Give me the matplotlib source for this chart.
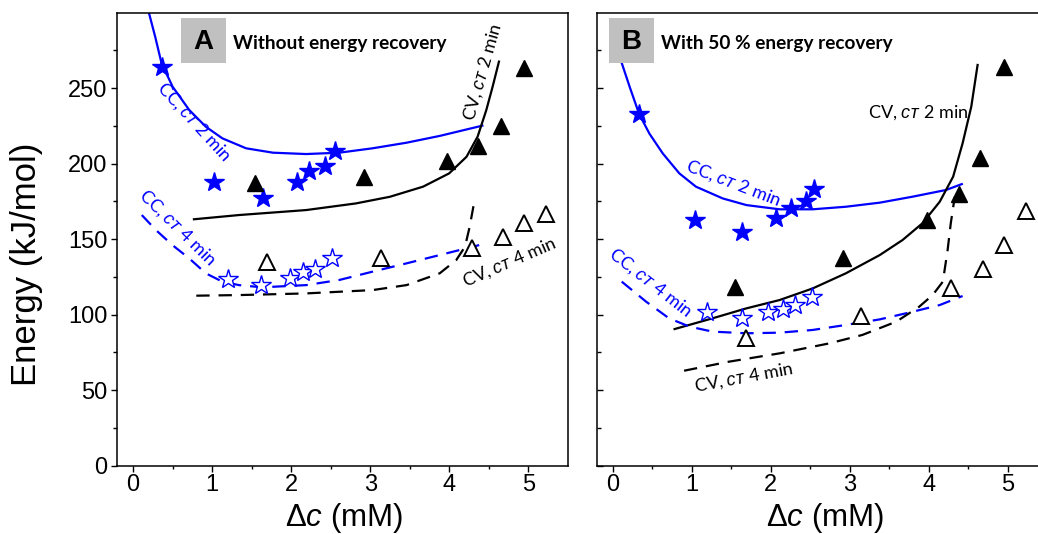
import numpy as np
import matplotlib
matplotlib.use("Agg")
import matplotlib.pyplot as plt
from matplotlib.patches import Rectangle

# ---------------- data ----------------
# Panel A: without energy recovery
a_cc2_x = [0.36, 1.03, 1.64, 2.07, 2.23, 2.43, 2.55]
a_cc2_y = [264, 188, 177, 188, 195, 198.5, 208.5]
a_cv2_x = [1.54, 2.92, 3.97, 4.36, 4.66, 4.95]
a_cv2_y = [187, 191, 202, 212, 225, 263.5]
a_cc4_x = [1.20, 1.62, 1.98, 2.15, 2.30, 2.52]
a_cc4_y = [123.5, 119.5, 124, 128, 130, 137.5]
a_cv4_x = [1.69, 3.14, 4.29, 4.68, 4.95, 5.23]
a_cv4_y = [135, 137.5, 144, 151.5, 161, 167]

a_fit_cc2_x = [0.20, 0.28, 0.36, 0.50, 0.71, 0.92, 1.13, 1.43, 1.77, 2.19, 2.61, 3.03, 3.46, 3.88, 4.42]
a_fit_cc2_y = [300, 284, 266.5, 251, 235.6, 224.5, 216.8, 210.2, 207.3, 206.4, 207.3, 210.2, 213.9, 218.4, 225.2]
a_fit_cv2_x = [0.77, 1.34, 2.19, 2.82, 3.25, 3.67, 4.00, 4.22, 4.36, 4.47, 4.55, 4.63]
a_fit_cv2_y = [163.2, 166.0, 169.3, 173.7, 178.1, 184.8, 193.6, 204.6, 217.9, 235.5, 251.0, 267.6]
a_fit_cc4_x = [0.11, 0.29, 0.50, 0.71, 0.92, 1.13, 1.34, 1.56, 1.77, 2.19, 2.61, 3.03, 3.46, 3.88, 4.38]
a_fit_cc4_y = [166, 156, 146, 137.3, 127.4, 121.9, 119.6, 118.5, 118.5, 119.6, 123, 128.5, 134, 139.5, 146.1]
a_fit_cv4_x = [0.80, 1.34, 2.19, 3.03, 3.46, 3.88, 4.09, 4.20, 4.26, 4.32]
a_fit_cv4_y = [112.6, 113, 114.1, 116.3, 119.6, 127.4, 136.2, 145, 158.3, 175.5]

# Panel B: with 50 % energy recovery
b_cc2_x = [0.33, 1.04, 1.63, 2.07, 2.26, 2.44, 2.55]
b_cc2_y = [233, 163, 155, 164, 170.5, 175.5, 183.5]
b_cv2_x = [1.55, 2.91, 3.98, 4.38, 4.65, 4.96]
b_cv2_y = [118.5, 137.5, 163, 180, 203.5, 264]
b_cc4_x = [1.19, 1.63, 1.97, 2.15, 2.31, 2.52]
b_cc4_y = [101.5, 97.5, 101.5, 104, 106.5, 112]
b_cv4_x = [1.68, 3.14, 4.28, 4.69, 4.96, 5.23]
b_cv4_y = [84.5, 99, 117.5, 130.5, 146, 168.5]

b_fit_cc2_x = [0.02, 0.07, 0.21, 0.33, 0.46, 0.63, 0.84, 1.05, 1.39, 1.69, 2.11, 2.53, 2.95, 3.38, 3.80, 4.22, 4.42]
b_fit_cc2_y = [292, 273, 251, 233, 220, 206.8, 193.6, 184.8, 177, 172.6, 169.8, 169.8, 171.5, 174.2, 178.2, 182.6, 186.5]
b_fit_cv2_x = [0.78, 1.26, 1.69, 2.11, 2.53, 2.95, 3.38, 3.67, 3.92, 4.14, 4.31, 4.43, 4.54, 4.62]
b_fit_cv2_y = [90.5, 97.6, 104.2, 109.7, 117.4, 127.4, 139.5, 149.5, 160.5, 174.8, 191.4, 213.5, 237.8, 265.4]
b_fit_cc4_x = [0.11, 0.42, 0.71, 0.97, 1.26, 1.69, 2.11, 2.53, 2.95, 3.38, 3.80, 4.14, 4.43]
b_fit_cc4_y = [121.9, 108.6, 97.6, 92.1, 88.8, 87.7, 88.1, 89.9, 93.2, 96.9, 102.0, 106.4, 112.4]
b_fit_cv4_x = [0.90, 1.47, 2.11, 2.74, 3.16, 3.59, 3.88, 4.05, 4.18, 4.24, 4.28, 4.33]
b_fit_cv4_y = [62.9, 68.9, 74.4, 81.0, 86.6, 95.4, 105.3, 113.0, 121.9, 142.8, 160.5, 178.0]

x_ticks = [0, 1, 2, 3, 4, 5]
y_ticks = [0, 50, 100, 150, 200, 250]
panel_letters = ["A", "B"]
panel_titles = ["Without energy recovery", "With 50 % energy recovery"]
x_label = "Δ$\\mathit{c}$ (mM)"
y_label = "Energy (kJ/mol)"

# ---------------- styling ----------------
plt.rcParams["font.family"] = ["Liberation Sans", "DejaVu Sans"]
plt.rcParams["mathtext.fontset"] = "custom"
plt.rcParams["mathtext.rm"] = "Liberation Sans"
plt.rcParams["mathtext.it"] = "Liberation Sans:italic"
plt.rcParams["mathtext.fallback"] = "stix"

BLUE = "#0000ff"
LBL_FONT = ["Lato", "DejaVu Sans"]
DASH = (0, (6, 4))

fig = plt.figure(figsize=(10.38, 5.34), dpi=100)
axA = fig.add_axes([0.1130, 0.1279, 0.4339, 0.8483])
axB = fig.add_axes([0.5754, 0.1279, 0.4333, 0.8483])


def draw_panel(ax, cc2, cv2, cc4, cv4, fcc2, fcv2, fcc4, fcv4):
    ax.plot(*fcc2, color=BLUE, lw=1.6, zorder=2)
    ax.plot(*fcv2, color="black", lw=1.6, zorder=2)
    ax.plot(*fcc4, color=BLUE, lw=1.6, ls=DASH, zorder=2)
    ax.plot(*fcv4, color="black", lw=1.6, ls=DASH, zorder=2)
    ax.plot(*cc2, ls="none", marker="*", ms=15, color=BLUE, mec=BLUE, zorder=4)
    ax.plot(*cv2, ls="none", marker="^", ms=12, color="black", zorder=4)
    ax.plot(*cc4, ls="none", marker="*", ms=15, mfc="white", mec=BLUE, mew=1.0, zorder=4)
    ax.plot(*cv4, ls="none", marker="^", ms=11.5, mfc="white", mec="black", mew=1.4, zorder=4)
    ax.set_xlim(-0.2, 5.5)
    ax.set_ylim(0, 300)
    ax.set_xticks(x_ticks)
    ax.set_xticks(np.arange(0.5, 5.5, 1.0), minor=True)
    ax.set_yticks(y_ticks)
    ax.set_yticks(np.arange(25, 300, 50), minor=True)
    ax.tick_params(axis="x", which="major", direction="out", length=4.3, width=1.0,
                   labelsize=17, pad=2)
    ax.tick_params(axis="x", which="minor", direction="out", length=2.5, width=1.0)
    ax.tick_params(top=False, right=False, which="both")
    for s in ax.spines.values():
        s.set_linewidth(1.1)


draw_panel(axA, (a_cc2_x, a_cc2_y), (a_cv2_x, a_cv2_y), (a_cc4_x, a_cc4_y), (a_cv4_x, a_cv4_y),
           (a_fit_cc2_x, a_fit_cc2_y), (a_fit_cv2_x, a_fit_cv2_y),
           (a_fit_cc4_x, a_fit_cc4_y), (a_fit_cv4_x, a_fit_cv4_y))
draw_panel(axB, (b_cc2_x, b_cc2_y), (b_cv2_x, b_cv2_y), (b_cc4_x, b_cc4_y), (b_cv4_x, b_cv4_y),
           (b_fit_cc2_x, b_fit_cc2_y), (b_fit_cv2_x, b_fit_cv2_y),
           (b_fit_cc4_x, b_fit_cc4_y), (b_fit_cv4_x, b_fit_cv4_y))

axA.tick_params(axis="y", which="major", direction="out", length=4.3, width=1.0, labelsize=17, pad=3)
axA.tick_params(axis="y", which="minor", direction="out", length=3.0, width=1.0)
axB.tick_params(axis="y", which="major", direction="in", length=4.3, width=1.0, labelleft=False)
axB.tick_params(axis="y", which="minor", direction="in", length=3.0, width=1.0)

# panel boxes and titles
for ax, x0, tx, letter, title in [(axA, 0.1414, 0.256, panel_letters[0], panel_titles[0]),
                                  (axB, 0.0253, 0.1417, panel_letters[1], panel_titles[1])]:
    ax.add_patch(Rectangle((x0, 0.888), 0.1, 0.0996, transform=ax.transAxes,
                           facecolor="#c0c0c0", edgecolor="none", zorder=5))
    ax.text(x0 + 0.05, 0.936, letter, transform=ax.transAxes, ha="center", va="center",
            fontsize=20, fontweight="bold", zorder=6)
    ax.text(tx, 0.932, title, transform=ax.transAxes, ha="left", va="center",
            fontsize=13.7, fontweight="bold", family=LBL_FONT, zorder=6)

CT = "$\\mathit{ᴄᴛ}$"


def curve_label(ax, x, y, kind, minutes, rot, color):
    ax.text(x, y, f"{kind}, {CT} {minutes} min", ha="center", va="center", rotation=rot,
            rotation_mode="anchor", color=color, fontsize=13, family=LBL_FONT, zorder=6)


curve_label(axA, 0.77, 228, "CC", 2, -47.5, BLUE)
curve_label(axA, 0.56, 158, "CC", 4, -44.5, BLUE)
curve_label(axA, 4.43, 261, "CV", 2, 74, "black")
curve_label(axA, 4.76, 135, "CV", 4, 23.5, "black")

curve_label(axB, 3.87, 233.5, "CV", 2, 0, "black")
curve_label(axB, 1.53, 187, "CC", 2, -21, BLUE)
curve_label(axB, 0.48, 121, "CC", 4, -38, BLUE)
curve_label(axB, 1.66, 58.5, "CV", 4, 10.5, "black")

# axis labels
fig.text(344 / 1038, 1 - 518 / 534, x_label, ha="center", va="center", fontsize=22.5)
fig.text(825 / 1038, 1 - 518 / 534, x_label, ha="center", va="center", fontsize=22.5)
fig.text(27 / 1038, 1 - 264 / 534, y_label, ha="center", va="center", rotation=90, fontsize=25)

fig.savefig("out.png", dpi=100)
